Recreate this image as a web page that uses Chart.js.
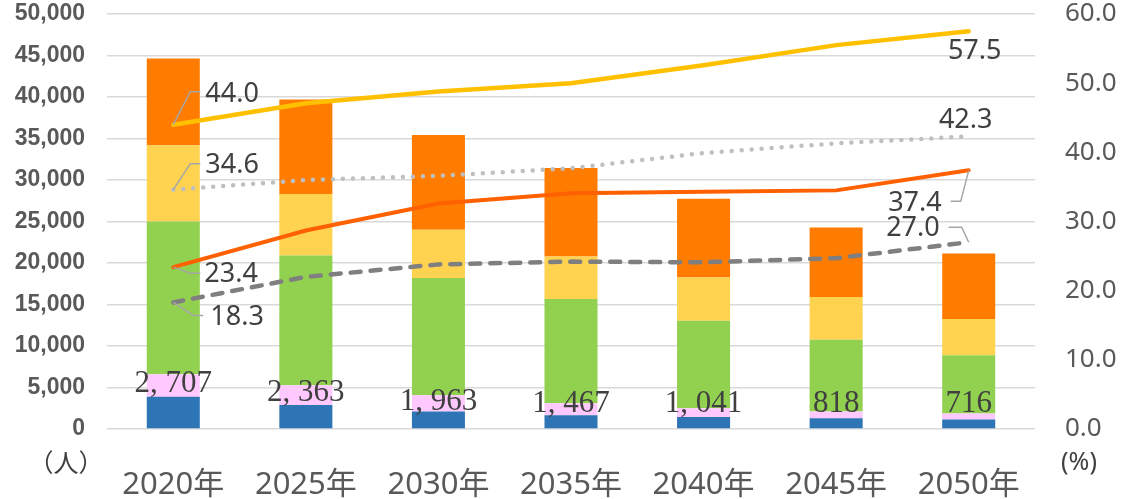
<!DOCTYPE html>
<html>
<head>
<meta charset="utf-8">
<script src="https://cdn.jsdelivr.net/npm/chart.js@4/dist/chart.umd.min.js"></script>
<style>
  html, body { margin: 0; padding: 0; background: #fff; }
  #wrap { width: 1135px; height: 499px; }
</style>
</head>
<body>
<div id="wrap"><canvas id="myChart"></canvas></div>
<script>
const years = ['2020年', '2025年', '2030年', '2035年', '2040年', '2045年', '2050年'];

// stacked bars (people), bottom to top
const blue   = [3880, 2900, 2100, 1650, 1450, 1300, 1140];
const pink   = [2707, 2363, 1963, 1467, 1041, 818, 716];
const green  = [18413, 15627, 14137, 12548, 10549, 8632, 7044];
const yellow = [9180, 7420, 5800, 5105, 5200, 5150, 4350];
const orange = [10470, 11390, 11430, 10680, 9500, 8375, 7885];

// rates (%), right axis
const rateYellow = [44.0, 47.1, 48.8, 50.0, 52.6, 55.5, 57.5];
const rateDotted = [34.6, 36.0, 36.6, 37.7, 39.9, 41.3, 42.3];
const rateOrange = [23.4, 28.7, 32.6, 34.1, 34.3, 34.5, 37.4];
const rateDashed = [18.3, 22.0, 23.8, 24.2, 24.1, 24.7, 27.0];

const leftMax = 50000, leftStep = 5000;
const rightMax = 60, rightStep = 10;

// label placement for first / last point of each line: [dx, dy, align, leader]
const lineLabels = {
  5: { first: [32, -30, 'left', [[17, -33], [27, -33]]], last: [6, 20, 'center', null] },
  6: { first: [32, -24, 'left', [[17, -26], [27, -26]]], last: [-3, -16, 'center', null] },
  7: { first: [31, 7, 'left', [[17, 6], [27, 6]]], last: [-27, 33, 'right', [[-8, 31], [-18, 31]]] },
  8: { first: [37, 15, 'left', [[20, 13], [30, 13]]], last: [-29, -14, 'right', [[-7, -15], [-20, -15]]] }
};

const labelPlugin = {
  id: 'labels',
  afterDatasetsDraw(chart) {
    const ctx = chart.ctx;
    ctx.save();
    // pink segment values
    const pm = chart.getDatasetMeta(1);
    ctx.font = '31px "Liberation Serif", serif';
    ctx.fillStyle = '#404040';
    ctx.textAlign = 'center';
    ctx.textBaseline = 'middle';
    pm.data.forEach((el, i) => {
      const mid = (el.y + el.base) / 2;
      const y = Math.min(mid - 2, 404);
      ctx.fillText(pink[i].toLocaleString('en-US').replace(',', ', '), el.x, y);
    });
    // line end labels
    ctx.font = '27px "Noto Sans", sans-serif';
    Object.keys(lineLabels).forEach(k => {
      const meta = chart.getDatasetMeta(+k);
      const vals = chart.data.datasets[k].data;
      const cfg = lineLabels[k];
      [['first', 0], ['last', vals.length - 1]].forEach(([key, idx]) => {
        const p = meta.data[idx];
        const [dx, dy, align, leader] = cfg[key];
        if (leader) {
          ctx.strokeStyle = '#a6a6a6';
          ctx.lineWidth = 1.5;
          ctx.beginPath();
          ctx.moveTo(p.x, p.y);
          leader.forEach(([lx, ly]) => ctx.lineTo(p.x + lx, p.y + ly));
          ctx.stroke();
        }
        ctx.textAlign = align;
        ctx.fillStyle = '#404040';
        ctx.fillText(vals[idx].toFixed(1), p.x + dx, p.y + dy);
      });
    });
    // axis unit labels
    ctx.fillStyle = '#404040';
    ctx.textAlign = 'center';
    ctx.font = '25px "Noto Sans CJK JP", sans-serif';
    ctx.fillText('（人）', 66, 462);
    ctx.font = '25px "Noto Sans", sans-serif';
    ctx.fillText('(%)', 1079, 463);
    ctx.restore();
  }
};

const bar = (data, color) => ({
  type: 'bar', data, backgroundColor: color, borderWidth: 0,
  stack: 's', yAxisID: 'y', order: 2,
  categoryPercentage: 0.8, barPercentage: 0.5
});
const line = (data, color, width, dash) => ({
  type: 'line', data, borderColor: color, borderWidth: width, borderDash: dash,
  borderCapStyle: 'round', pointRadius: 0, tension: 0, fill: false,
  yAxisID: 'y1', order: 1
});

new Chart(document.querySelector('#myChart'), {
  data: {
    labels: years,
    datasets: [
      bar(blue, '#2e75b6'),
      bar(pink, '#ffc9ff'),
      bar(green, '#92d050'),
      bar(yellow, '#ffd24f'),
      bar(orange, '#ff7c00'),
      line(rateYellow, '#ffc000', 4.5, []),
      line(rateDotted, '#bfbfbf', 4.5, [0, 10]),
      line(rateOrange, '#ff6000', 4, []),
      line(rateDashed, '#7f7f7f', 4.5, [10, 10])
    ]
  },
  options: {
    responsive: true,
    maintainAspectRatio: false,
    animation: false,
    layout: { padding: { top: 14, left: 0, right: 0, bottom: 0 } },
    plugins: { legend: { display: false }, tooltip: { enabled: false } },
    scales: {
      x: {
        stacked: true,
        grid: { display: false },
        border: { display: false },
        ticks: { color: '#595959', font: { family: '"Noto Sans", "Noto Sans CJK JP", sans-serif', size: 31 }, padding: 30 },
        afterFit: s => { s.height = 70; }
      },
      y: {
        stacked: true,
        position: 'left',
        min: 0, max: leftMax,
        grid: { color: '#d9d9d9', lineWidth: 1.5, drawTicks: false },
        border: { display: false },
        ticks: {
          stepSize: leftStep, padding: 22, color: '#595959',
          font: { family: '"Liberation Sans", Arial, sans-serif', size: 23, weight: 'bold' },
          callback: v => v.toLocaleString('en-US')
        },
        afterFit: s => { s.width = 107; s.paddingTop = 0; s.paddingBottom = 0; }
      },
      y1: {
        stacked: false,
        position: 'right',
        min: 0, max: rightMax,
        grid: { display: false, drawTicks: false },
        border: { display: false },
        ticks: {
          stepSize: rightStep, padding: 30, color: '#595959',
          font: { family: '"Noto Sans", sans-serif', size: 26 },
          callback: v => v.toFixed(1)
        },
        afterFit: s => { s.width = 100; s.paddingTop = 0; s.paddingBottom = 0; }
      }
    }
  },
  plugins: [labelPlugin]
});
</script>
</body>
</html>
